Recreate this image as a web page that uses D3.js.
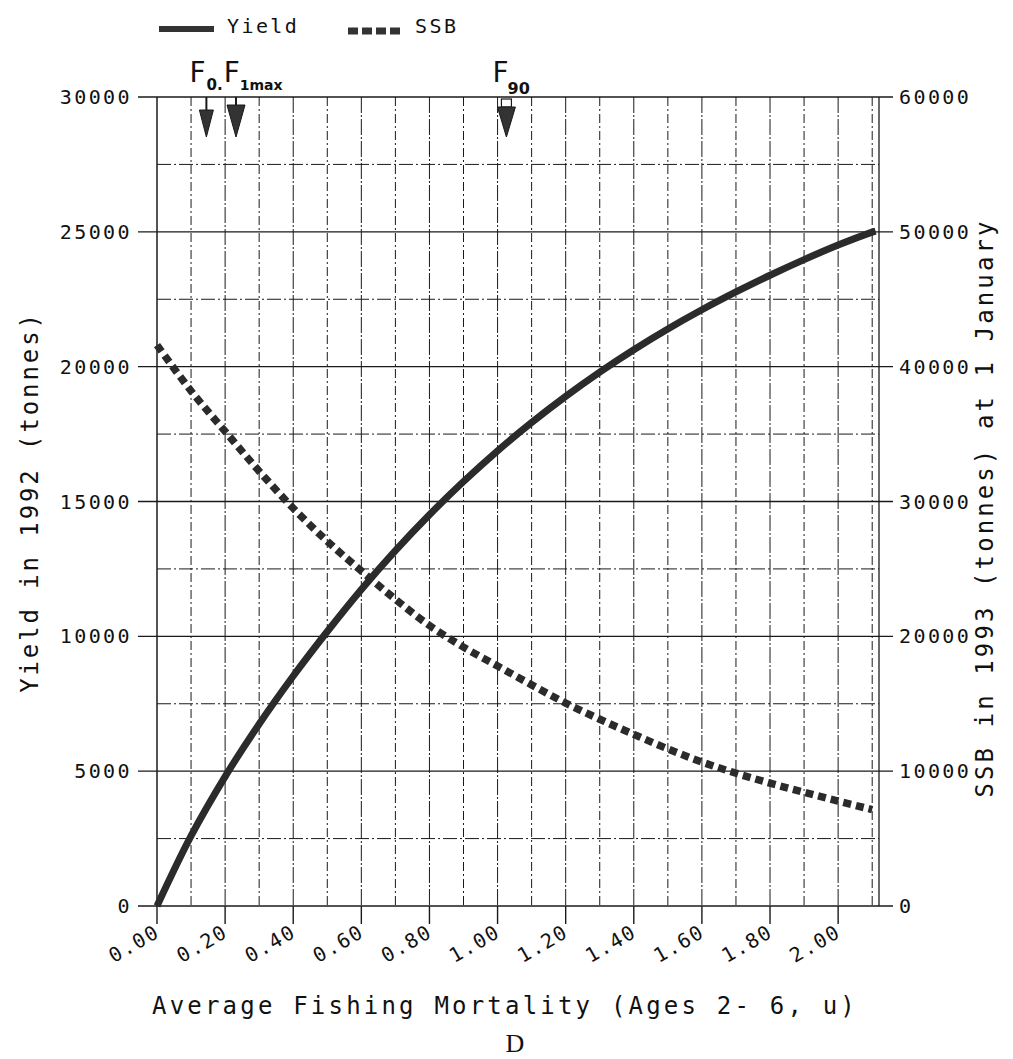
<!DOCTYPE html>
<html><head><meta charset="utf-8">
<script src="https://cdn.jsdelivr.net/npm/d3@7/dist/d3.min.js"></script>
<style>
body{margin:0;background:#fff;}
svg text{font-family:"DejaVu Sans Mono",monospace;fill:#111;}
</style></head>
<body><svg id="c" width="1013" height="1059"></svg>
<script>
// ---- data ----
const fishingMortality = [0,0.1,0.2,0.3,0.4,0.5,0.6,0.7,0.8,0.9,1.0,1.1,1.2,1.3,1.4,1.5,1.6,1.7,1.8,1.9,2.0,2.1,2.11];
const yieldValues = [0,2600,4800,6750,8530,10180,11740,13180,14510,15740,16880,17930,18900,19800,20630,21400,22110,22770,23390,23970,24510,24990,25030];
const ssbF = [0,0.1,0.2,0.3,0.4,0.5,0.6,0.7,0.8,0.9,1.0,1.1,1.2,1.3,1.4,1.5,1.6,1.7,1.8,1.9,2.0,2.1];
const ssbValues = [41600,38200,35200,32250,29500,27050,24850,22750,20800,19200,17800,16400,15050,13850,12730,11650,10680,9850,9110,8430,7780,7150];
const xTickValues = [0,0.2,0.4,0.6,0.8,1.0,1.2,1.4,1.6,1.8,2.0];
const xTickLabels = ["0.00","0.20","0.40","0.60","0.80","1.00","1.20","1.40","1.60","1.80","2.00"];
const xGridValues = [0.1,0.2,0.3,0.4,0.5,0.6,0.7,0.8,0.9,1.0,1.1,1.2,1.3,1.4,1.5,1.6,1.7,1.8,1.9,2.0,2.1];
const leftTicks = [0,5000,10000,15000,20000,25000,30000];
const rightTicks = [0,10000,20000,30000,40000,50000,60000];
const hGridMinor = [2500,7500,12500,17500,22500,27500];
const refPoints = [0.145,0.232,1.026];
const legendLabels = ["Yield","SSB"];

// ---- scales ----
const svg = d3.select("#c");
const x = d3.scaleLinear().domain([0,2.12]).range([157,879]);
const yL = d3.scaleLinear().domain([0,30000]).range([906,97]);
const yR = d3.scaleLinear().domain([0,60000]).range([906,97]);
const ink = "#1a1a1a";

// grid
const g = svg.append("g");
g.selectAll(".vg").data(xGridValues).enter().append("line")
  .attr("x1",d=>x(d)).attr("x2",d=>x(d)).attr("y1",yL(30000)).attr("y2",yL(0))
  .attr("stroke",ink).attr("stroke-width",1)
  .attr("stroke-dasharray",d=>(Math.round(d*10)%2===0)?"16,2,2,2":"9,3,2,3");
g.selectAll(".hg").data(hGridMinor).enter().append("line")
  .attr("x1",x(0)).attr("x2",x(2.12)).attr("y1",d=>yL(d)).attr("y2",d=>yL(d))
  .attr("stroke",ink).attr("stroke-width",1).attr("stroke-dasharray","14,3,2,3");
g.selectAll(".hm").data(leftTicks).enter().append("line")
  .attr("x1",138).attr("x2",893).attr("y1",d=>yL(d)).attr("y2",d=>yL(d))
  .attr("stroke",ink).attr("stroke-width",1.3);

// axes lines
svg.append("line").attr("x1",x(0)).attr("x2",x(0)).attr("y1",yL(30000)).attr("y2",yL(0)).attr("stroke",ink).attr("stroke-width",1.5);
svg.append("line").attr("x1",x(2.12)).attr("x2",x(2.12)).attr("y1",yL(30000)).attr("y2",yL(0)).attr("stroke",ink).attr("stroke-width",1.3);

// left axis labels
svg.selectAll(".lt").data(leftTicks).enter().append("text")
  .attr("x",132).attr("y",d=>yL(d)+7).attr("text-anchor","end")
  .style("font-size","20px").style("letter-spacing","2.4px").text(d=>d);
// right axis labels
svg.selectAll(".rt").data(rightTicks).enter().append("text")
  .attr("x",899).attr("y",d=>yR(d)+7).attr("text-anchor","start")
  .style("font-size","20px").style("letter-spacing","2.4px").text(d=>d);

// x ticks
svg.selectAll(".xt").data(xTickValues).enter().append("line")
  .attr("x1",d=>x(d)).attr("x2",d=>x(d)).attr("y1",yL(0)).attr("y2",yL(0)+18)
  .attr("stroke",ink).attr("stroke-width",1.4);
svg.selectAll(".xl").data(xTickValues).enter().append("text")
  .attr("transform",(d)=>`translate(${x(d)+4},${yL(0)+30}) rotate(-30)`)
  .attr("text-anchor","end").style("font-size","20px").style("letter-spacing","1.6px")
  .text((d,i)=>xTickLabels[i]);

// curves
const line = d3.line().curve(d3.curveCatmullRom.alpha(0.5));
svg.append("path")
  .attr("d", line(fishingMortality.map((f,i)=>[x(f), yL(yieldValues[i])])))
  .attr("fill","none").attr("stroke","#2b2b2b").attr("stroke-width",7);
svg.append("path")
  .attr("d", line(ssbF.map((f,i)=>[x(f), yR(ssbValues[i])])))
  .attr("fill","none").attr("stroke","#2b2b2b").attr("stroke-width",7.5)
  .attr("stroke-dasharray","8,5");

// reference arrows
const arrowSpec = [
  {stemEnd:111, triTop:110, half:7},
  {stemEnd:106, triTop:105, half:9},
  {stemEnd:108, triTop:107, half:9}
];
refPoints.forEach((f,i)=>{
  const cx = x(f), s = arrowSpec[i];
  if(i===2){
    svg.append("rect").attr("x",cx-5).attr("y",99).attr("width",10).attr("height",s.triTop-99)
      .attr("fill","none").attr("stroke",ink).attr("stroke-width",1.2);
  } else {
    svg.append("line").attr("x1",cx).attr("x2",cx).attr("y1",yL(30000)).attr("y2",s.stemEnd)
      .attr("stroke",ink).attr("stroke-width",2);
  }
  svg.append("path").attr("d",`M${cx-s.half},${s.triTop}L${cx+s.half},${s.triTop}L${cx},137Z`)
    .attr("fill","#333").attr("stroke",ink).attr("stroke-width",1);
});
// reference labels (single text elements with subscripts)
const t1 = svg.append("text").attr("x",x(refPoints[0])-17).attr("y",82)
  .style("font-family","'DejaVu Sans',sans-serif");
t1.append("tspan").style("font-size","28px").text("F");
t1.append("tspan").attr("dy",8).attr("dx",1).style("font-size","15px").style("font-weight","bold").text("0.");
t1.append("tspan").attr("dy",-8).attr("dx",1).style("font-size","28px").text("F");
t1.append("tspan").attr("dy",8).attr("dx",0).style("font-size","14px").style("font-weight","bold").text("1max");
const t2 = svg.append("text").attr("x",x(refPoints[2])-14).attr("y",82)
  .style("font-family","'DejaVu Sans',sans-serif");
t2.append("tspan").style("font-size","28px").text("F");
t2.append("tspan").attr("dy",12).attr("dx",-1).style("font-size","16px").style("font-weight","bold").text("90");

// legend
svg.append("line").attr("x1",159).attr("x2",214).attr("y1",29).attr("y2",29).attr("stroke","#333").attr("stroke-width",6);
svg.append("text").attr("x",227).attr("y",33).style("font-size","20px").style("letter-spacing","2.4px").text(legendLabels[0]);
svg.append("line").attr("x1",348).attr("x2",402).attr("y1",31).attr("y2",31).attr("stroke","#333").attr("stroke-width",7).attr("stroke-dasharray","10,4");
svg.append("text").attr("x",415).attr("y",33).style("font-size","20px").style("letter-spacing","2.4px").text(legendLabels[1]);

// axis titles
svg.append("text").attr("transform","translate(38,502) rotate(-90)").attr("text-anchor","middle")
  .style("font-size","24px").style("letter-spacing","2.9px").text("Yield in 1992 (tonnes)");
svg.append("text").attr("transform","translate(993,508) rotate(-90)").attr("text-anchor","middle")
  .style("font-size","24px").style("letter-spacing","3.1px").text("SSB in 1993 (tonnes) at 1 January");
svg.append("text").attr("x",505).attr("y",1014).attr("text-anchor","middle")
  .style("font-size","24px").style("letter-spacing","3.2px").text("Average Fishing Mortality (Ages 2- 6, u)");
svg.append("text").attr("x",515).attr("y",1052).attr("text-anchor","middle")
  .style("font-family","'Liberation Serif',serif").style("font-size","26px").text("D");
</script></body></html>
